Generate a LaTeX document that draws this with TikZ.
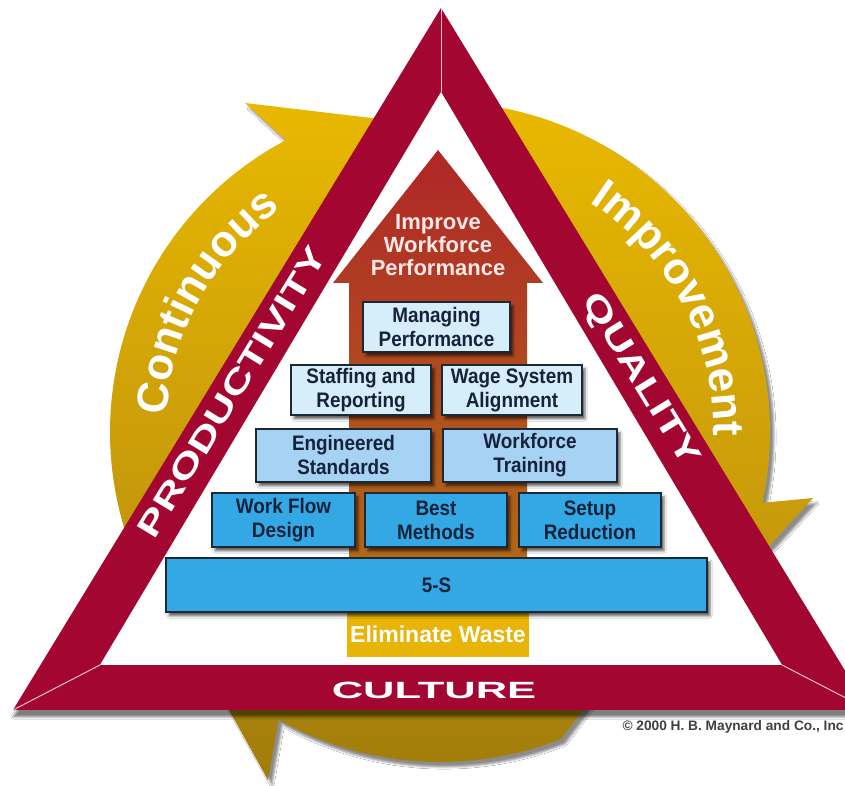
\documentclass[tikz,border=0pt]{standalone}
\usepackage{fontspec}
\setmainfont{Liberation Sans}
\newfontfamily\boxfont[FakeStretch=0.9]{Liberation Sans}
\newfontfamily\bandfont[FakeStretch=1.4]{Liberation Sans}
\newfontfamily\culturefont[FakeStretch=1.85]{Liberation Sans}
\newfontfamily\ringfont{Liberation Sans}
\usetikzlibrary{decorations.text,shadows.blur}

\definecolor{crimson}{RGB}{164,6,50}
\definecolor{goldA}{RGB}{232,184,0}
\definecolor{goldB}{RGB}{190,146,14}
\definecolor{goldC}{RGB}{160,124,10}
\definecolor{paleblue}{RGB}{214,238,250}
\definecolor{lightblue}{RGB}{166,210,244}
\definecolor{midblue}{RGB}{52,168,228}
\definecolor{boxline}{RGB}{28,40,52}
\definecolor{boxtext}{RGB}{22,34,58}
\definecolor{houseRed}{RGB}{176,38,40}
\definecolor{houseOrange}{RGB}{186,84,30}
\definecolor{houseBrown}{RGB}{176,120,20}
\definecolor{wasteGold}{RGB}{232,180,8}
\definecolor{improveText}{RGB}{252,232,232}

\newcommand{\ringstyle}{\ringfont\bfseries\fontsize{44}{48}\selectfont}

\begin{document}
\begin{tikzpicture}[x=1pt,y=1pt,
    ring/.style={blur shadow={shadow xshift=4pt, shadow yshift=-5pt, shadow opacity=45}},
    bevel/.style={draw=crimson!25!white, line width=1pt},
    box/.style={draw=boxline, line width=1.5pt, text=boxtext, align=center, inner sep=2pt,
      font=\boxfont\bfseries\fontsize{21}{24}\selectfont,
      blur shadow={shadow xshift=3pt, shadow yshift=-4pt, shadow opacity=60}},
    bandtext/.style={text=white, font=\bandfont\bfseries\fontsize{32}{32}\selectfont},
    ringtext/.style={decorate, decoration={text along path, text align=center,
      text color=white, text={|\ringstyle|#1}}}]
  \clip (0,0) rectangle (845,786);
  \fill[white] (0,0) rectangle (845,786);

  % gold ring: three arrows going clockwise, their tips hidden by the triangle
  \shade[ring, top color=goldA, bottom color=goldB]
    ([shift={(440,354)}]210:330) arc[start angle=210, end angle=117.9, radius=330]
    -- (245,683) -- (430,661)
    -- ([shift={(440,354)}]100:200) arc[start angle=100, end angle=210, radius=200] -- cycle;
  \shade[ring, top color=goldA, bottom color=goldB!90!goldA]
    ([shift={(440,354)}]80:330) arc[start angle=80, end angle=-12.4, radius=330]
    -- (813,288) -- (720,186)
    -- ([shift={(440,354)}]-35:200) arc[start angle=-35, end angle=80, radius=200] -- cycle;
  \shade[ring, top color=goldB, bottom color=goldC]
    (640,150) -- ([shift={(440,354)}]-68.5:330) arc[start angle=-68.5, end angle=-119.3, radius=330]
    -- (268,6) -- (190,146)
    -- ([shift={(440,354)}]-150:200) arc[start angle=-150, end angle=-50, radius=200] -- cycle;

  \path[ringtext=Continuous] ([shift={(440,354)}]202:274) arc[start angle=202, end angle=100, radius=274];
  \path[ringtext=Improvement] ([shift={(440,354)}]80:274) arc[start angle=80, end angle=-24, radius=274];

  % the triangle band
  \coordinate (apex) at (441,778);
  \coordinate (cornerL) at (13,76);
  \coordinate (cornerR) at (869,76);
  \coordinate (iapex) at (441,694);
  \coordinate (icornerL) at (100,121);
  \coordinate (icornerR) at (782,121);
  \fill[crimson, blur shadow={shadow xshift=0pt, shadow yshift=-7pt, shadow opacity=50}]
    (apex) -- (cornerL) -- (cornerR) -- cycle;
  \fill[white] (iapex) -- (icornerL) -- (icornerR) -- cycle;
  \foreach \o/\i in {apex/iapex, cornerL/icornerL, cornerR/icornerR}
    \draw[bevel] (\o) -- (\i);

  \node[bandtext, rotate=58.6] (prod) at (232,394) {PRODUCTIVITY};
  \node[bandtext, rotate=-58.6] (qual) at (640,406) {QUALITY};
  \node[text=white, font=\culturefont\bfseries\fontsize{23.5}{24}\selectfont] (culture) at (434,96) {CULTURE};

  % the house arrow
  \shade[top color=houseRed, middle color=houseOrange, bottom color=houseBrown]
    (349,129) -- (349,503) -- (333,503) -- (438,636) -- (543,503) -- (527,503) -- (527,129) -- cycle;
  \node[text=improveText, align=center, font=\bfseries\fontsize{22}{23}\selectfont] (improve)
    at (438,541) {Improve\\Workforce\\Performance};
  \node[fill=wasteGold, text=white, minimum width=178pt, minimum height=45pt,
    font=\bfseries\fontsize{23}{24}\selectfont] (waste) at (438,151.5) {Eliminate Waste};

  \foreach \nm/\x/\y/\w/\h/\clr/\txt in {%
      mp/436.5/459/147/50/paleblue/{Managing\\Performance},
      sr/361/396/140/50/paleblue/{Staffing and\\Reporting},
      wsa/512/396/140/50/paleblue/{Wage System\\Alignment},
      es/343.5/330.5/175/53/lightblue/{Engineered\\Standards},
      wt/530/330.5/174/53/lightblue/{Workforce\\Training},
      wfd/283.5/266/143/54/midblue/{Work Flow\\Design},
      bm/436/266/142/54/midblue/{Best\\Methods},
      sur/590/266/142/54/midblue/{Setup\\Reduction},
      fives/436.5/201/541/54/midblue/{5-S}}{% one box per practice
    \node[box, fill=\clr, minimum width=\w pt, minimum height=\h pt] (\nm) at (\x,\y) {\txt};
  }

  \node[anchor=west, text=black!75, font=\bfseries\fontsize{13.7}{14}\selectfont] (copy)
    at (619,59) {\textcopyright{} 2000 H. B. Maynard and Co., Inc};
\end{tikzpicture}
\end{document}
